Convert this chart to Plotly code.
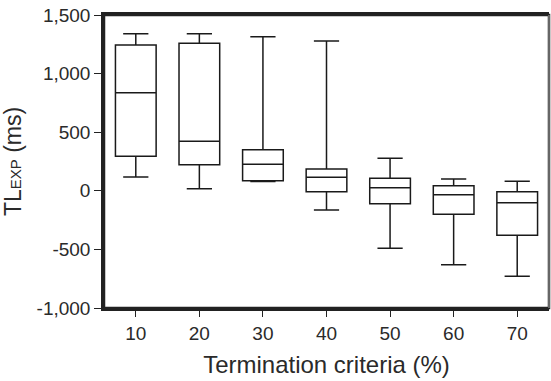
import plotly.graph_objects as go

categories = ["10", "20", "30", "40", "50", "60", "70"]
upper_whisker = [1340, 1340, 1315, 1278, 277, 101, 81]
q3_vals = [1244, 1258, 351, 186, 107, 44, -8]
median_vals = [837, 422, 226, 115, 26, -33, -101]
q1_vals = [294, 223, 86, -8, -110, -201, -380]
lower_whisker = [118, 18, 80, -164, -491, -631, -730]

y_tickvals = [-1000, -500, 0, 500, 1000, 1500]
y_ticktext = ["-1,000", "-500", "0", "500", "1,000", "1,500"]

FONT = "Liberation Sans, Arial, sans-serif"
AX = "#222222"
TXT = "#2a2a2a"

fig = go.Figure()
fig.add_trace(go.Box(
    x=categories,
    q1=q1_vals,
    median=median_vals,
    q3=q3_vals,
    lowerfence=lower_whisker,
    upperfence=upper_whisker,
    boxpoints=False,
    width=0.64,
    whiskerwidth=0.62,
    fillcolor="white",
    line=dict(color="#1a1a1a", width=1.5),
    showlegend=False,
    hoverinfo="skip",
))

# frame as one rectangle around the plot area, plus thin grey right edge
fig.add_shape(type="rect", xref="paper", yref="paper", x0=0, x1=1, y0=0, y1=1,
              line=dict(color=AX, width=2.5), fillcolor="rgba(0,0,0,0)", layer="above")
fig.add_shape(type="line", xref="paper", yref="paper", x0=1, x1=1, y0=0, y1=1,
              line=dict(color="#aaaaaa", width=1), layer="above")

fig.update_layout(
    width=551, height=381,
    margin=dict(l=104, r=2, t=15, b=73),
    plot_bgcolor="white", paper_bgcolor="white",
    font=dict(family=FONT, color=TXT),
    xaxis=dict(
        type="category",
        range=[-0.5, 6.5],
        showgrid=False, zeroline=False,
        showline=True, linecolor=AX, linewidth=2.5, mirror=True,
        ticks="outside", ticklen=6, tickwidth=1.2, tickcolor=AX,
        tickfont=dict(size=19, family=FONT, color=TXT),
        title=dict(text="Termination criteria (%)", font=dict(size=24, family=FONT, color=TXT), standoff=14),
        automargin=False,
    ),
    yaxis=dict(
        range=[-1000, 1500],
        tickvals=y_tickvals, ticktext=y_ticktext,
        showgrid=False, zeroline=False,
        showline=True, linecolor=AX, linewidth=2.5,
        ticks="outside", ticklen=7, tickwidth=1.2, tickcolor=AX,
        tickfont=dict(size=19, family=FONT, color=TXT),
        ticklabeloverflow="allow",
        title=dict(text="TL<span style='font-size:15px'>EXP</span> (ms)", font=dict(size=23, family=FONT, color=TXT), standoff=12),
        automargin=False,
    ),
)

fig.write_html("out.html", config={"displayModeBar": False},
               post_script="document.body.style.margin='0px';")
